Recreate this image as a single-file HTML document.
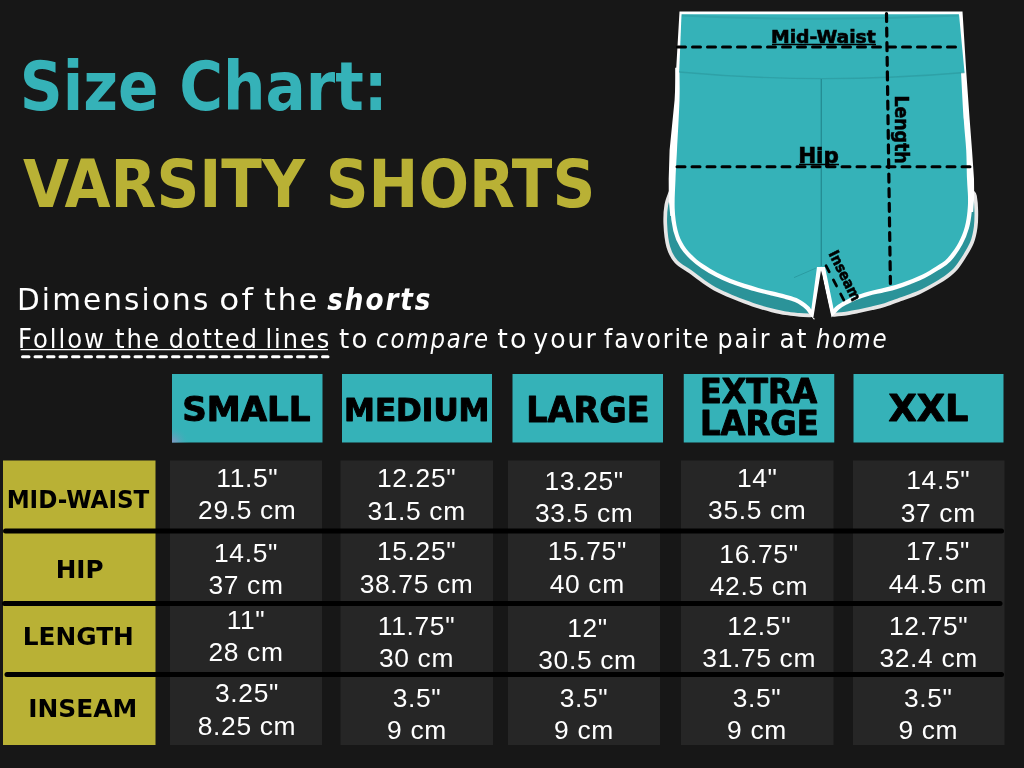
<!DOCTYPE html>
<html lang="en"><head><meta charset="utf-8"><title>Size Chart: Varsity Shorts</title>
<style>
html,body{margin:0;padding:0;background:#171717;}
body{width:1024px;height:768px;overflow:hidden;}
svg{display:block;}
text{font-family:"Liberation Sans", "DejaVu Sans", sans-serif;}
.b{font-weight:bold;}
.i{font-style:italic;}
.w{font-family:"DejaVu Sans Condensed", "DejaVu Sans", "Liberation Sans", sans-serif;fill:#fff;letter-spacing:1.9px;}
.v{fill:#fff;font-size:26.4px;text-anchor:middle;letter-spacing:.65px;}
.h{font-family:"DejaVu Sans Condensed", "DejaVu Sans", "Liberation Sans", sans-serif;fill:#000;font-weight:bold;stroke:#000;stroke-width:.9px;stroke-linejoin:round;}
.r{font-family:"DejaVu Sans Condensed", "DejaVu Sans", "Liberation Sans", sans-serif;fill:#000;font-weight:bold;}
.lb{font-family:"DejaVu Sans Condensed", "DejaVu Sans", "Liberation Sans", sans-serif;fill:#000;font-weight:bold;stroke:#000;stroke-width:.55px;}
.t1{font-family:"DejaVu Sans Condensed", "DejaVu Sans", "Liberation Sans", sans-serif;fill:#35b2b8;font-weight:bold;}
.t2{font-family:"DejaVu Sans Condensed", "DejaVu Sans", "Liberation Sans", sans-serif;fill:#b9b135;font-weight:bold;}
</style></head><body>
<svg width="1024" height="768" viewBox="0 0 1024 768">
<rect width="1024" height="768" fill="#171717"/>

<text id="t_size" class="t1" font-size="68" transform="translate(19.85 110) scale(1.0 1)" textLength="367.90" lengthAdjust="spacingAndGlyphs">Size Chart:</text>
<text id="t_var" class="t2" font-size="65.5" transform="translate(22.95 206.5) scale(1.0 1)" textLength="572.30" lengthAdjust="spacingAndGlyphs">VARSITY SHORTS</text>
<text id="s1a" class="w" font-size="29.3" transform="translate(17.00 309.6) scale(1 1)" textLength="193.40" lengthAdjust="spacingAndGlyphs">Dimensions</text>
<text id="s1b" class="w" font-size="29.3" transform="translate(219.25 309.6) scale(1 1)" textLength="36.15" lengthAdjust="spacingAndGlyphs">of</text>
<text id="s1c" class="w" font-size="29.3" transform="translate(263.90 309.6) scale(1 1)" textLength="55.30" lengthAdjust="spacingAndGlyphs">the</text>
<text id="s1d" class="w b i" font-size="29.3" transform="translate(327.35 309.6) scale(1 1)" textLength="104.85" lengthAdjust="spacingAndGlyphs">shorts</text>
<text id="s2_0" class="w" font-size="25.8" transform="translate(17.90 347.6) scale(1 1)" textLength="88.10" lengthAdjust="spacingAndGlyphs">Follow</text>
<text id="s2_1" class="w" font-size="25.8" transform="translate(115.05 347.6) scale(1 1)" textLength="46.10" lengthAdjust="spacingAndGlyphs">the</text>
<text id="s2_2" class="w" font-size="25.8" transform="translate(168.75 347.6) scale(1 1)" textLength="90.10" lengthAdjust="spacingAndGlyphs">dotted</text>
<text id="s2_3" class="w" font-size="25.8" transform="translate(265.40 347.6) scale(1 1)" textLength="65.85" lengthAdjust="spacingAndGlyphs">lines</text>
<text id="s2_4" class="w" font-size="25.8" transform="translate(339.10 347.6) scale(1 1)" textLength="30.40" lengthAdjust="spacingAndGlyphs">to</text>
<text id="s2_5" class="w i" font-size="25.8" transform="translate(376.00 347.6) scale(1 1)" textLength="114.00" lengthAdjust="spacingAndGlyphs">compare</text>
<text id="s2_6" class="w" font-size="25.8" transform="translate(497.25 347.6) scale(1 1)" textLength="31.50" lengthAdjust="spacingAndGlyphs">to</text>
<text id="s2_7" class="w" font-size="25.8" transform="translate(533.25 347.6) scale(1 1)" textLength="64.75" lengthAdjust="spacingAndGlyphs">your</text>
<text id="s2_8" class="w" font-size="25.8" transform="translate(604.05 347.6) scale(1 1)" textLength="106.40" lengthAdjust="spacingAndGlyphs">favorite</text>
<text id="s2_9" class="w" font-size="25.8" transform="translate(717.55 347.6) scale(1 1)" textLength="53.90" lengthAdjust="spacingAndGlyphs">pair</text>
<text id="s2_10" class="w" font-size="25.8" transform="translate(779.45 347.6) scale(1 1)" textLength="28.90" lengthAdjust="spacingAndGlyphs">at</text>
<text id="s2_11" class="w i" font-size="25.8" transform="translate(815.90 347.6) scale(1 1)" textLength="72.60" lengthAdjust="spacingAndGlyphs">home</text>
<line x1="20.5" y1="349.6" x2="328" y2="349.6" stroke="#fff" stroke-width="1.4"/>
<line x1="22.5" y1="356.8" x2="328" y2="356.8" stroke="#fff" stroke-width="3" stroke-dasharray="6.5 6" stroke-linecap="round"/>
<g id="shorts">
<path d="M972.5 192.0 C972.9 192.7 974.4 192.8 975.0 196.0 C975.6 199.2 976.2 205.8 976.3 211.0 C976.4 216.2 976.4 221.8 975.7 227.0 C975.0 232.2 974.0 237.5 972.0 242.5 C970.0 247.5 966.7 252.7 964.0 257.0 C961.3 261.3 958.8 265.2 956.0 268.5 C953.2 271.8 950.3 274.0 947.0 276.5 C943.7 279.0 940.7 280.8 936.0 283.5 C931.3 286.2 925.0 289.8 919.0 292.5 C913.0 295.2 905.7 297.4 900.0 299.5 C894.3 301.6 889.7 303.4 885.0 304.9 C880.3 306.4 876.2 307.3 872.0 308.3 C867.8 309.3 864.4 310.1 859.7 311.0 C855.0 311.9 848.0 313.3 844.0 313.9 C840.0 314.5 837.8 314.4 836.0 314.6 C834.2 314.8 833.8 314.9 833.3 315.0 L822 262 L811.0 315.5 C809.1 315.4 803.6 315.3 799.4 314.9 C795.2 314.5 790.3 314.1 785.7 313.3 C781.1 312.6 776.5 311.5 772.0 310.4 C767.5 309.3 762.9 308.0 758.4 306.6 C753.9 305.2 749.3 303.5 744.7 301.8 C740.1 300.1 735.6 298.3 731.0 296.4 C726.4 294.5 721.8 292.6 717.3 290.2 C712.8 287.8 708.2 284.8 703.7 281.7 C699.2 278.6 694.6 274.9 690.0 271.5 C685.4 268.1 679.6 265.6 676.0 261.5 C672.4 257.4 670.1 253.2 668.3 247.0 C666.5 240.8 665.6 231.0 665.3 224.0 C665.0 217.0 665.4 210.3 666.3 205.0 C667.2 199.7 669.8 194.2 670.5 192.0 Z" fill="#2b9399" stroke="#e6e6e6" stroke-width="3.7" stroke-linejoin="round"/>
<path d="M679.5 11.5 L962.5 11.5 L966.3 72.5 L969.7 120 L972 150 L974 179 L974.2 197 L973.2 212 L966 212 L961 72 L680 72 L676 216 L670.3 216 L668.8 200 L668.7 179 L669.6 150 L674.6 100 L676 72 Z" fill="#fff"/>
<path d="M961.0 72.0 C961.5 80.0 962.9 107.0 963.8 120.0 C964.6 133.0 965.7 140.2 966.2 150.0 C966.7 159.8 966.7 171.2 967.0 179.0 C967.3 186.8 967.9 191.7 968.0 197.0 C968.1 202.3 968.0 206.0 967.5 211.0 C967.0 216.0 966.3 221.8 964.8 227.0 C963.3 232.2 961.5 237.3 958.6 242.5 C955.8 247.7 951.4 254.0 947.7 258.0 C944.0 262.0 940.4 263.8 936.2 266.5 C932.0 269.2 927.0 272.2 922.5 274.5 C918.0 276.8 913.4 278.5 908.9 280.3 C904.4 282.1 899.8 283.7 895.2 285.1 C890.6 286.5 886.0 287.4 881.5 288.5 C877.0 289.6 872.4 290.4 867.9 291.7 C863.4 293.0 858.1 294.7 854.2 296.2 C850.3 297.7 847.6 299.2 844.6 300.8 C841.6 302.4 838.2 304.6 836.4 306.0 C834.6 307.4 834.1 308.5 833.6 309.0 L825 267 L817 267 L811.3 309.5 C810.9 309.0 810.1 307.6 809.0 306.5 C807.9 305.4 806.9 304.3 804.8 302.9 C802.7 301.5 799.8 299.5 796.6 298.1 C793.4 296.7 789.8 295.8 785.7 294.7 C781.6 293.6 776.5 292.4 772.0 291.3 C767.5 290.2 762.9 289.2 758.4 287.9 C753.9 286.6 749.3 285.2 744.7 283.8 C740.1 282.3 735.6 280.8 731.0 279.0 C726.4 277.2 721.8 275.2 717.3 272.8 C712.8 270.4 707.6 267.2 703.7 264.6 C699.8 262.0 697.3 260.2 694.0 257.0 C690.7 253.8 686.8 250.0 684.0 245.5 C681.2 241.0 679.0 236.2 677.5 230.0 C676.0 223.8 675.0 217.1 674.7 208.6 C674.4 200.1 675.1 188.8 675.5 179.0 C675.9 169.2 676.3 163.2 677.0 150.0 C677.7 136.8 679.1 113.0 679.5 100.0 C679.9 87.0 679.5 76.7 679.5 72.0 Z" fill="#fff" stroke="#fff" stroke-width="8.6" stroke-linejoin="miter" stroke-miterlimit="10"/>
<path d="M961.0 72.0 C961.5 80.0 962.9 107.0 963.8 120.0 C964.6 133.0 965.7 140.2 966.2 150.0 C966.7 159.8 966.7 171.2 967.0 179.0 C967.3 186.8 967.9 191.7 968.0 197.0 C968.1 202.3 968.0 206.0 967.5 211.0 C967.0 216.0 966.3 221.8 964.8 227.0 C963.3 232.2 961.5 237.3 958.6 242.5 C955.8 247.7 951.4 254.0 947.7 258.0 C944.0 262.0 940.4 263.8 936.2 266.5 C932.0 269.2 927.0 272.2 922.5 274.5 C918.0 276.8 913.4 278.5 908.9 280.3 C904.4 282.1 899.8 283.7 895.2 285.1 C890.6 286.5 886.0 287.4 881.5 288.5 C877.0 289.6 872.4 290.4 867.9 291.7 C863.4 293.0 858.1 294.7 854.2 296.2 C850.3 297.7 847.6 299.2 844.6 300.8 C841.6 302.4 838.2 304.6 836.4 306.0 C834.6 307.4 834.1 308.5 833.6 309.0 L825 267 L817 267 L811.3 309.5 C810.9 309.0 810.1 307.6 809.0 306.5 C807.9 305.4 806.9 304.3 804.8 302.9 C802.7 301.5 799.8 299.5 796.6 298.1 C793.4 296.7 789.8 295.8 785.7 294.7 C781.6 293.6 776.5 292.4 772.0 291.3 C767.5 290.2 762.9 289.2 758.4 287.9 C753.9 286.6 749.3 285.2 744.7 283.8 C740.1 282.3 735.6 280.8 731.0 279.0 C726.4 277.2 721.8 275.2 717.3 272.8 C712.8 270.4 707.6 267.2 703.7 264.6 C699.8 262.0 697.3 260.2 694.0 257.0 C690.7 253.8 686.8 250.0 684.0 245.5 C681.2 241.0 679.0 236.2 677.5 230.0 C676.0 223.8 675.0 217.1 674.7 208.6 C674.4 200.1 675.1 188.8 675.5 179.0 C675.9 169.2 676.3 163.2 677.0 150.0 C677.7 136.8 679.1 113.0 679.5 100.0 C679.9 87.0 679.5 76.7 679.5 72.0 Z" fill="#35b2b8"/>
<path d="M681.5 14.2 L959 14.2 L964.5 72.5 Q821 85 679.2 72 Z" fill="#35b2b8"/>
<path d="M679.2 72 Q821 85 964.5 72.5" fill="none" stroke="#2a9399" stroke-width="1.3" opacity=".55"/>
<path d="M682 15.5 Q821 22 958 15.5" fill="none" stroke="#2a9399" stroke-width="2" opacity=".35"/>
<path d="M821 270.6 L813.3 318 L831.7 318 Z" fill="#171717"/>
<line x1="821.3" y1="79" x2="821.3" y2="266" stroke="#248c92" stroke-width="1.3"/>
<line x1="794" y1="277.6" x2="815.8" y2="268.2" stroke="#248c92" stroke-width="1" opacity=".6"/>
<line x1="677.5" y1="47" x2="956" y2="47" stroke="#000" stroke-width="3" stroke-dasharray="8 7" stroke-linecap="round"/>
<line x1="677" y1="166.8" x2="972" y2="166.8" stroke="#000" stroke-width="3" stroke-dasharray="8 7" stroke-linecap="round"/>
<line x1="886.5" y1="13.5" x2="890.4" y2="283.5" stroke="#000" stroke-width="3.2" stroke-dasharray="8 6.6" stroke-linecap="round"/>
<line x1="826.1" y1="265.8" x2="844" y2="300.4" stroke="#000" stroke-width="2.8" stroke-dasharray="6.8 9.1" stroke-linecap="round"/>
<text transform="translate(894.9 95.4) rotate(90)" class="lb" font-size="18.8" textLength="68.3" lengthAdjust="spacingAndGlyphs">Length</text>
<text transform="translate(828.3 253.5) rotate(63.6)" class="lb" font-size="14.6" textLength="54.5" lengthAdjust="spacingAndGlyphs">Inseam</text>
</g>

<text id="l_mid" class="lb" font-size="18.2" transform="translate(770.90 43.3) scale(1.0 1)" textLength="104.90" lengthAdjust="spacingAndGlyphs">Mid-Waist</text>
<line x1="772" y1="44.5" x2="876" y2="44.5" stroke="#000" stroke-width="1.5"/>
<text id="l_hip" class="lb" font-size="21.5" transform="translate(798.15 163.1) scale(1.0 1)" textLength="40.70" lengthAdjust="spacingAndGlyphs">Hip</text>
<line x1="799" y1="164.6" x2="839" y2="164.6" stroke="#000" stroke-width="1.5"/>
<rect x="172" y="374" width="150.5" height="68.5" fill="#35b2b8"/>
<rect x="342" y="374" width="150" height="68.5" fill="#35b2b8"/>
<rect x="512.5" y="374" width="150.5" height="68.5" fill="#35b2b8"/>
<rect x="683.75" y="374" width="150.5" height="68.5" fill="#35b2b8"/>
<rect x="853.5" y="374" width="150.0" height="68.5" fill="#35b2b8"/>
<defs><radialGradient id="pg" gradientUnits="userSpaceOnUse" cx="171" cy="444" r="19"><stop offset="0" stop-color="#9a8fc6" stop-opacity=".95"/><stop offset=".45" stop-color="#7f97bf" stop-opacity=".45"/><stop offset="1" stop-color="#35b2b8" stop-opacity="0"/></radialGradient></defs>
<rect x="172" y="420" width="24" height="22.5" fill="url(#pg)"/>
<text id="h_s" class="h" font-size="33.5" transform="translate(182.25 421.3) scale(1.0 1)" textLength="128.25" lengthAdjust="spacingAndGlyphs">SMALL</text>
<text id="h_m" class="h" font-size="31.5" transform="translate(344.00 421.3) scale(1.0 1)" textLength="145.50" lengthAdjust="spacingAndGlyphs">MEDIUM</text>
<text id="h_l" class="h" font-size="35.8" transform="translate(526.25 422) scale(1.0 1)" textLength="123.25" lengthAdjust="spacingAndGlyphs">LARGE</text>
<text id="h_x1" class="h" font-size="33.2" transform="translate(700.00 403) scale(1.0 1)" textLength="117.25" lengthAdjust="spacingAndGlyphs">EXTRA</text>
<text id="h_x2" class="h" font-size="33.8" transform="translate(700.00 435) scale(1.0 1)" textLength="118.75" lengthAdjust="spacingAndGlyphs">LARGE</text>
<text id="h_xx" class="h" font-size="36.5" transform="translate(888.50 421.3) scale(1.0 1)" textLength="80.00" lengthAdjust="spacingAndGlyphs">XXL</text>
<rect x="3" y="460.5" width="152.5" height="284.5" fill="#b9b135"/>
<rect x="170" y="460.5" width="152" height="284.5" fill="#262626"/>
<rect x="340.5" y="460.5" width="152.5" height="284.5" fill="#262626"/>
<rect x="508" y="460.5" width="152" height="284.5" fill="#262626"/>
<rect x="681" y="460.5" width="152.5" height="284.5" fill="#262626"/>
<rect x="853" y="460.5" width="151.5" height="284.5" fill="#262626"/>
<line x1="5.5" y1="531" x2="1001.5" y2="531" stroke="#000" stroke-width="5" stroke-linecap="round"/>
<line x1="4.5" y1="603.5" x2="1000" y2="603.5" stroke="#000" stroke-width="5" stroke-linecap="round"/>
<line x1="7" y1="674.5" x2="1001.5" y2="674.5" stroke="#000" stroke-width="5" stroke-linecap="round"/>
<text id="r_mid" class="r" font-size="25.4" transform="translate(6.65 508) scale(1.0 1)" textLength="142.70" lengthAdjust="spacingAndGlyphs">MID-WAIST</text>
<text id="r_hip" class="r" font-size="25.4" transform="translate(55.75 577.6) scale(1.0 1)" textLength="47.85" lengthAdjust="spacingAndGlyphs">HIP</text>
<text id="r_len" class="r" font-size="25.4" transform="translate(22.75 644.8) scale(1.0 1)" textLength="111.10" lengthAdjust="spacingAndGlyphs">LENGTH</text>
<text id="r_ins" class="r" font-size="25.4" transform="translate(28.25 717.2) scale(1.0 1)" textLength="109.00" lengthAdjust="spacingAndGlyphs">INSEAM</text>
<text x="247.3" y="486.5" class="v">11.5&quot;</text>
<text x="247.3" y="518.5" class="v">29.5 cm</text>
<text x="246" y="562" class="v">14.5&quot;</text>
<text x="246" y="594.25" class="v">37 cm</text>
<text x="246" y="628.5" class="v">11&quot;</text>
<text x="246" y="660.5" class="v">28 cm</text>
<text x="247" y="702.25" class="v">3.25&quot;</text>
<text x="247" y="734.75" class="v">8.25 cm</text>
<text x="416.6" y="487.25" class="v">12.25&quot;</text>
<text x="416.6" y="519.75" class="v">31.5 cm</text>
<text x="416.6" y="560.25" class="v">15.25&quot;</text>
<text x="416.6" y="593" class="v">38.75 cm</text>
<text x="416.5" y="634.5" class="v">11.75&quot;</text>
<text x="416.5" y="666.5" class="v">30 cm</text>
<text x="417" y="706.5" class="v">3.5&quot;</text>
<text x="417" y="738.5" class="v">9 cm</text>
<text x="584.2" y="489.75" class="v">13.25&quot;</text>
<text x="584.2" y="521.75" class="v">33.5 cm</text>
<text x="587.3" y="560.25" class="v">15.75&quot;</text>
<text x="587.3" y="593" class="v">40 cm</text>
<text x="587.5" y="636.5" class="v">12&quot;</text>
<text x="587.5" y="668.5" class="v">30.5 cm</text>
<text x="584" y="706.5" class="v">3.5&quot;</text>
<text x="584" y="738.5" class="v">9 cm</text>
<text x="757.3" y="486.5" class="v">14&quot;</text>
<text x="757.3" y="518.5" class="v">35.5 cm</text>
<text x="759" y="562.75" class="v">16.75&quot;</text>
<text x="759" y="594.75" class="v">42.5 cm</text>
<text x="759.2" y="634.5" class="v">12.5&quot;</text>
<text x="759.2" y="666.5" class="v">31.75 cm</text>
<text x="757" y="706.5" class="v">3.5&quot;</text>
<text x="757" y="738.5" class="v">9 cm</text>
<text x="938.3" y="489" class="v">14.5&quot;</text>
<text x="938.3" y="521.5" class="v">37 cm</text>
<text x="938" y="560.25" class="v">17.5&quot;</text>
<text x="938" y="593" class="v">44.5 cm</text>
<text x="928.7" y="634.5" class="v">12.75&quot;</text>
<text x="928.7" y="666.5" class="v">32.4 cm</text>
<text x="928.3" y="706.5" class="v">3.5&quot;</text>
<text x="928.3" y="738.5" class="v">9 cm</text>
</svg></body></html>
